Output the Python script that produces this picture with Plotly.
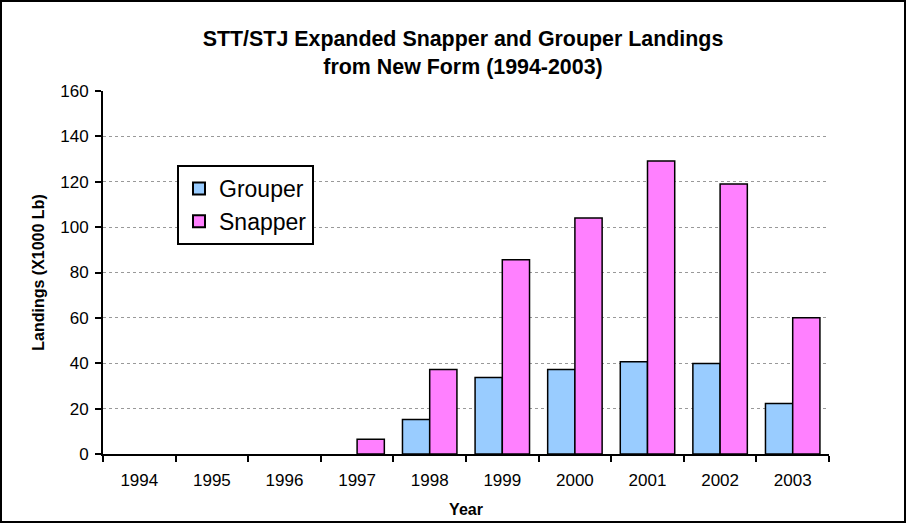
import plotly.graph_objects as go

years = ["1994", "1995", "1996", "1997", "1998", "1999", "2000", "2001", "2002", "2003"]
grouper = [0, 0, 0, 0, 15.2, 33.7, 37.2, 40.7, 39.9, 22.3]
snapper = [0, 0, 0, 6.5, 37.2, 85.6, 104.0, 129.2, 119.0, 60.1]
y_ticks = [0, 20, 40, 60, 80, 100, 120, 140, 160]

W, H = 906, 523
L, R, T, B = 103, 77, 91, 69
pw, ph = W - L - R, H - T - B
FONT = "Liberation Sans, Arial, sans-serif"


def outline(vals):
    return [1.5 if v > 0 else 0 for v in vals]


fig = go.Figure()
fig.add_trace(go.Bar(x=years, y=grouper, name="Grouper",
                     marker=dict(color="#99CCFF", line=dict(color="black", width=outline(grouper)))))
fig.add_trace(go.Bar(x=years, y=snapper, name="Snapper",
                     marker=dict(color="#FF80FF", line=dict(color="black", width=outline(snapper)))))

fig.update_layout(
    width=W, height=H,
    margin=dict(l=L, r=R, t=T, b=B, autoexpand=False),
    paper_bgcolor="white", plot_bgcolor="white",
    barmode="group", bargap=0.25, bargroupgap=0,
    font=dict(family=FONT, color="black", size=17),
    title=dict(text="<b>STT/STJ Expanded Snapper and Grouper Landings<br>from New Form (1994-2003)</b>",
               x=463 / W, xref="container", xanchor="center", y=(523 - 46) / 523, yanchor="middle",
               font=dict(size=21.4)),
    xaxis=dict(title=dict(text="<b>Year</b>", standoff=14, font=dict(size=16)), automargin=False,
               showline=True, linecolor="black", linewidth=2,
               ticks="outside", tickson="boundaries", ticklen=6, tickcolor="black", tickwidth=2,
               tickfont=dict(size=17), ticklabelstandoff=10),
    yaxis=dict(title=dict(text="<b>Landings (X1000 Lb)</b>", standoff=12, font=dict(size=16)),
               automargin=False,
               range=[0, 160], tickvals=y_ticks, showline=True, linecolor="black", linewidth=2,
               ticks="outside", ticklen=6, tickcolor="black", tickwidth=2,
               showgrid=True, gridcolor="#999999", griddash="dot", gridwidth=1,
               zeroline=False, tickfont=dict(size=17), ticklabelstandoff=3),
    legend=dict(x=(177 - L) / pw, y=(T + ph - 165) / ph, xanchor="left", yanchor="top",
                bordercolor="black", borderwidth=2, bgcolor="white",
                font=dict(size=23), itemsizing="constant", itemwidth=30),
    shapes=[dict(type="rect", xref="paper", yref="paper",
                 x0=(1 - L) / pw, x1=(905 - L) / pw,
                 y0=(T + ph - 522) / ph, y1=(T + ph - 1) / ph,
                 line=dict(color="black", width=2), fillcolor="rgba(0,0,0,0)", layer="below")],
)

fig.write_html("out.html", config={"displayModeBar": False},
               post_script="document.body.style.margin='0';document.body.style.overflow='hidden';")
